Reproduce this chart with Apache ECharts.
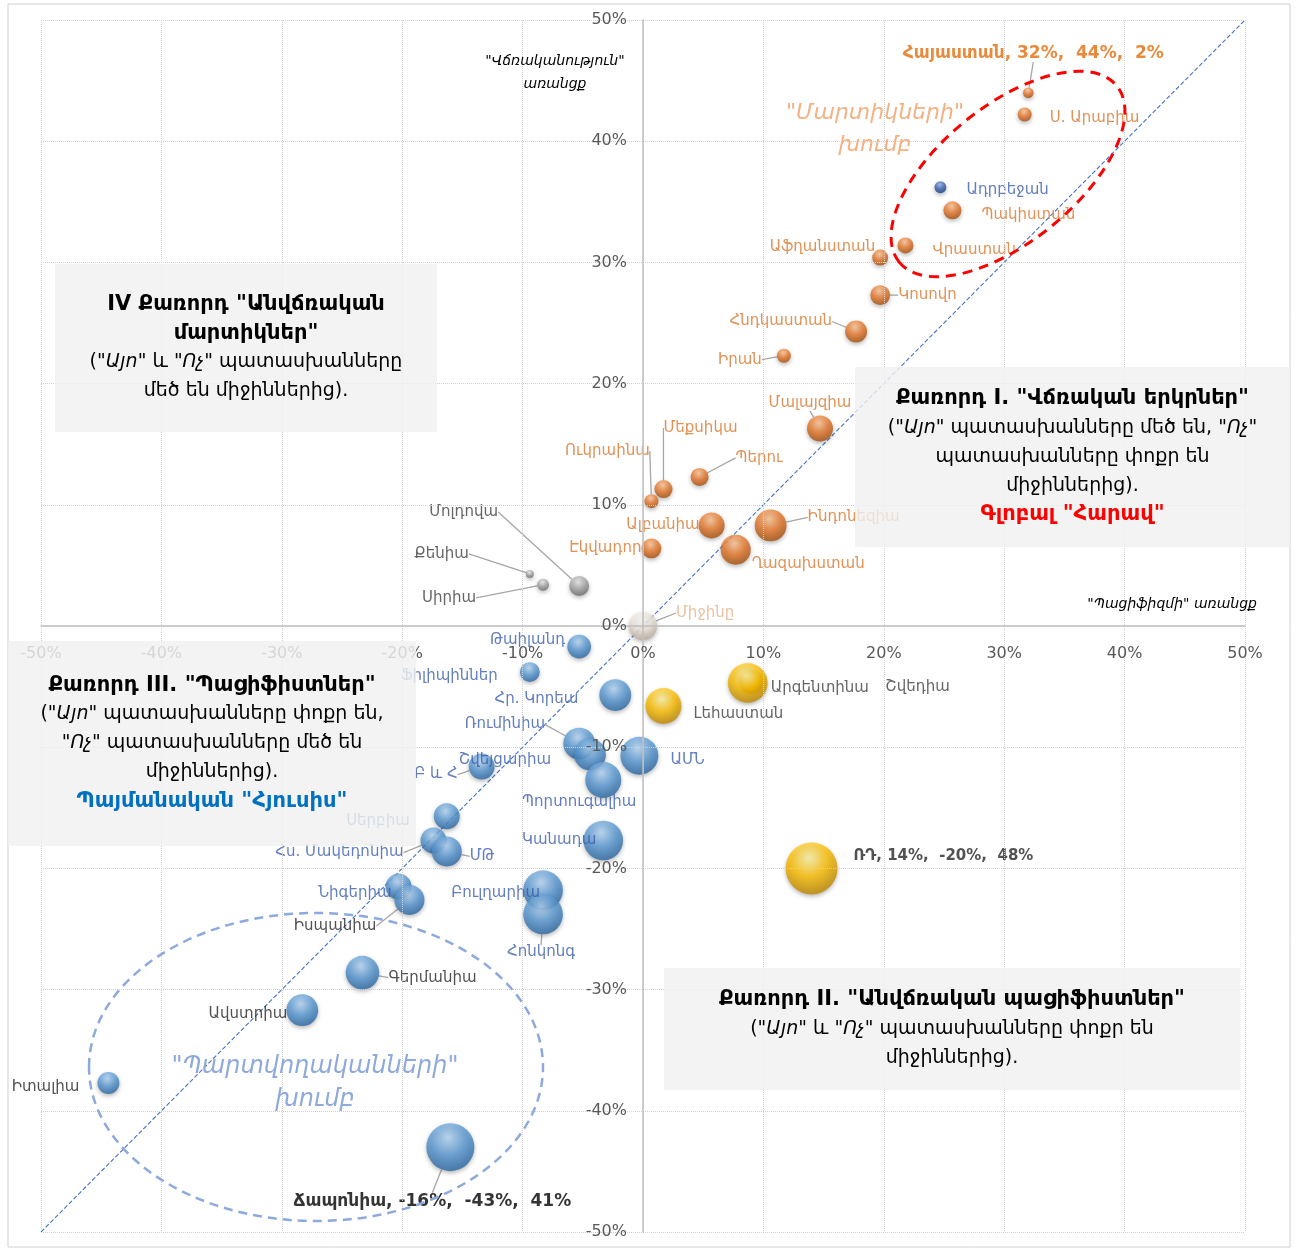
<!DOCTYPE html>
<html><head><meta charset="utf-8">
<script src="https://cdn.jsdelivr.net/npm/echarts@6/dist/echarts.min.js"></script>
<style>html,body{margin:0;padding:0;background:#fff}#c{width:1296px;height:1250px}</style>
</head><body><div id="c"></div>
<script>
// ---- DATA ----
const axisTicks = [-50,-40,-30,-20,-10,0,10,20,30,40,50];
const diagX = [-50, 50];
const diagY = [-50, 50];

const hawkNames = ['Հայաստան','Ս. Արաբիա','Պակիստան','Վրաստան','Աֆղանստան','Կոսովո','Հնդկաստան','Իրան','Մալայզիա','Պերու','Մեքսիկա','Ուկրաինա','Ալբանիա','Ինդոնեզիա','Էկվադոր','Ղազախստան'];
const hawkX    = [32, 31.7, 25.7, 21.8, 19.7, 19.7, 17.7, 11.7, 14.7, 4.7, 1.7, 0.7, 5.7, 10.6, 0.7, 7.7];
const hawkY    = [44, 42.2, 34.3, 31.4, 30.4, 27.3, 24.3, 22.3, 16.3, 12.3, 11.3, 10.3, 8.3, 8.3, 6.4, 6.3];
const hawkSize = [2, 3.5, 5.8, 4.5, 4.5, 7, 8.6, 3.5, 12, 5.8, 5.8, 3.5, 12, 18, 7, 16];

const azerNames = ['Ադրբեջան'];
const azerX = [24.7];
const azerY = [36.2];
const azerSize = [2.5];

const neutralNames = ['Մոլդովա','Քենիա','Սիրիա'];
const neutralX = [-5.3, -9.4, -8.3];
const neutralY = [3.3, 4.3, 3.4];
const neutralSize = [7, 1.1, 2.5];

const avgNames = ['Միջինը'];
const avgX = [0];
const avgY = [0];
const avgSize = [14];

const doveNames = ['Թաիլանդ','Ֆիլիպիններ','Հր. Կորեա','Ռումինիա','Շվեյցարիա','ԱՄՆ','Պորտուգալիա','Բ և Հ','Սերբիա','Հս. Մակեդոնիա','ՄԹ','Կանադա','Նիգերիա','Իսպանիա','Բուլղարիա','Հոնկոնգ','Գերմանիա','Ավստրիա','Իտալիա','Ճապոնիա'];
const doveX    = [-5.3, -9.4, -2.3, -5.3, -4.4, -0.3, -3.3, -13.4, -16.3, -17.4, -16.3, -3.3, -20.3, -19.4, -8.3, -8.3, -23.3, -28.3, -44.4, -16];
const doveY    = [-1.7, -3.8, -5.7, -9.7, -10.6, -10.7, -12.7, -11.6, -15.7, -17.7, -18.6, -17.7, -21.5, -22.6, -21.8, -23.8, -28.6, -31.7, -37.7, -43];
const doveSize = [10, 7, 18, 18, 18, 25.6, 23, 12, 12, 12, 16, 28, 12, 16, 28, 28, 20, 18, 8.6, 41];

const goldNames = ['Շվեդիա','Արգենտինա','Լեհաստան','ՌԴ'];
const goldX    = [9, 8.7, 1.7, 14];
const goldY    = [-4.6, -4.7, -6.6, -20];
const goldSize = [10, 28, 23, 48];

const featured = ['Հայաստան','Ճապոնիա','ՌԴ'];

// ---- LABEL PLACEMENT (pixel offsets from bubble centre) ----
const place = {
 'Հայաստան':[5,-39,'center',1],'Ս. Արաբիա':[25,4,'left',0],'Ադրբեջան':[26,3,'left',0],'Պակիստան':[29,5,'left',0],
 'Վրաստան':[27,5,'left',0],'Աֆղանստան':[-5,-10,'right',0],'Կոսովո':[18,0,'left',1],'Հնդկաստան':[-24,-10,'right',1],
 'Իրան':[-22,4,'right',1],'Մալայզիա':[-10,-25,'center',1],'Պերու':[36,-19,'left',1],'Մեքսիկա':[37,-61,'center',1],
 'Ուկրաինա':[-44,-50,'center',1],'Ալբանիա':[-12,0,'right',0],'Ինդոնեզիա':[37,-8,'left',1],'Էկվադոր':[-10,0,'right',0],
 'Ղազախստան':[16,14,'left',0],'Մոլդովա':[-81,-74,'right',1],'Քենիա':[-61,-20,'right',1],'Սիրիա':[-67,13,'right',1],
 'Միջինը':[33,-13,'left',1],'Թաիլանդ':[-14,-6,'right',0],'Ֆիլիպիններ':[-32,4,'right',0],'Հր. Կորեա':[-37,4,'right',0],
 'Ռումինիա':[-34,-19,'right',1],'Շվեյցարիա':[-39,6,'right',0],'ԱՄՆ':[31,4,'left',0],'Պորտուգալիա':[-24,22,'center',0],
 'Բ և Հ':[-24,8,'right',1],'Սերբիա':[-37,5,'right',0],'Հս. Մակեդոնիա':[-30,12,'right',1],'ՄԹ':[23,5,'left',1],
 'Կանադա':[-7,0,'right',0],'Նիգերիա':[-7,7,'right',0],'Իսպանիա':[-33,26,'right',1],'Բուլղարիա':[-3,3,'right',0],
 'Հոնկոնգ':[-2,38,'center',1],'Գերմանիա':[26,5,'left',1],'Ավստրիա':[-15,4,'right',0],'Իտալիա':[-29,4,'right',0],
 'Ճապոնիա':[-18,54,'center',1],'Շվեդիա':[134,5,'left',0],'Արգենտինա':[23,5,'left',0],'Լեհաստան':[30,8,'left',0],
 'ՌԴ':[42,-12,'left',0]
};
const darkLabel = ['Գերմանիա','Ավստրիա','Իտալիա','Իսպանիա'];
const FONT = '"DejaVu Sans", sans-serif';

function grad(hi, base, dark) {
  return {type:'radial', x:0.45, y:0.3, r:0.8, colorStops:[
    {offset:0, color:hi},{offset:0.45, color:base},{offset:0.85, color:dark},{offset:1, color:dark}]};
}

function makeSeries(names, xs, ys, sizes, color, labelColor) {
  return {
    type:'scatter', z:3,
    data: names.map((n,i)=>{
      const isF = featured.indexOf(n) >= 0;
      const item = {name:n, value:[xs[i], ys[i], sizes[i]], labelLine:{show: !!place[n][3]}, label:{}};
      if (isF) {
        item.label = {fontWeight:'bold', fontSize: n==='ՌԴ'?15:17,
          color: n==='Հայաստան' ? '#E46C0A' : (n==='ՌԴ' ? '#262626' : '#000')};
      } else if (darkLabel.indexOf(n) >= 0) {
        item.label = {color:'#262626'};
      }
      return item;
    }),
    symbolSize: v => 7.5*Math.sqrt(v[2]),
    itemStyle:{color: color, shadowBlur:4, shadowColor:'rgba(0,0,0,0.35)', shadowOffsetY:2},
    label:{show:true, position:'right', fontFamily:FONT, fontSize:15, color:labelColor,
      formatter: p => featured.indexOf(p.name) >= 0 ? `${p.name}, ${p.value[0]}%,  ${p.value[1]}%,  ${p.value[2]}%` : p.name},
    labelLine:{show:false, lineStyle:{color:'#A6A6A6', width:1.3}},
    labelLayout: p => {
      const n = names[p.dataIndex]; const pl = place[n];
      const cx = p.rect.x + p.rect.width/2, cy = p.rect.y + p.rect.height/2;
      return {x: cx + pl[0], y: cy + pl[1], align: pl[2], verticalAlign:'middle'};
    },
    emphasis:{disabled:true}
  };
}

const chart = echarts.init(document.getElementById('c'));

function box(x, y, w, h, text) {
  return [
    {type:'rect', z:100, shape:{x:x, y:y, width:w, height:h}, style:{fill:'rgba(240,240,240,0.82)'}},
    {type:'text', z:101, x: x + w/2, y: y + h/2, style:{text:text, align:'center', verticalAlign:'middle', textAlign:'center', textVerticalAlign:'middle',
      rich:{
        b:{font:'bold 21px ' + FONT, fill:'#000', lineHeight:29, align:'center'},
        n:{font:'19px ' + FONT, fill:'#000', lineHeight:29},
        i:{font:'italic 19px ' + FONT, fill:'#000', lineHeight:29},
        r:{font:'bold 21px ' + FONT, fill:'#FF0000', lineHeight:29},
        bl:{font:'bold 21px ' + FONT, fill:'#0070C0', lineHeight:29}
      }}}
  ];
}

const graphics = [].concat(
  [{type:'rect', z:0, shape:{x:8, y:4, width:1282, height:1243}, style:{fill:'none', stroke:'#D0D0D0', lineWidth:1}}],
  [{type:'ellipse', z:50, x:1008, y:174, rotation: 39*Math.PI/180, shape:{cx:0, cy:0, rx:140, ry:68},
     style:{fill:'none', stroke:'#FF0000', lineWidth:3, lineDash:[10,7]}}],
  [{type:'ellipse', z:50, shape:{cx:316, cy:1067, rx:227, ry:154},
     style:{fill:'none', stroke:'#8EA9DB', lineWidth:2.5, lineDash:[9,6]}}],
  [{type:'text', z:60, x:555, y:73, style:{text:'"Վճռականություն"\nառանցք', font:'italic 14px ' + FONT, fill:'#000', align:'center', verticalAlign:'middle', textAlign:'center', lineHeight:23}}],
  [{type:'text', z:60, x:1257, y:604, style:{text:'"Պացիֆիզմի" առանցք', font:'italic 14px ' + FONT, fill:'#000', align:'right', verticalAlign:'middle', textAlign:'right'}}],
  [{type:'text', z:60, x:875, y:129, style:{text:'"Մարտիկների"\nխումբ', font:'italic 22px ' + FONT, fill:'#F4B183', align:'center', verticalAlign:'middle', textAlign:'center', lineHeight:32}}],
  [{type:'text', z:60, x:315, y:1083, style:{text:'"Պարտվողականների"\nխումբ', font:'italic 24px ' + FONT, fill:'#8EA9DB', align:'center', verticalAlign:'middle', textAlign:'center', lineHeight:33}}],
  box(55, 264, 382, 168, '{b|IV Քառորդ "Անվճռական}\n{b|մարտիկներ"}\n{n|("}{i|Այո}{n|" և "}{i|Ոչ}{n|" պատասխանները}\n{n|մեծ են միջիններից).}'),
  box(855, 367, 435, 180, '{b|Քառորդ I. "Վճռական երկրներ"}\n{n|("}{i|Այո}{n|" պատասխանները մեծ են, "}{i|Ոչ}{n|"}\n{n|պատասխանները փոքր են}\n{n|միջիններից).}\n{r|Գլոբալ "Հարավ"}'),
  box(8, 641, 408, 205, '{b|Քառորդ III. "Պացիֆիստներ"}\n{n|("}{i|Այո}{n|" պատասխանները փոքր են,}\n{n|"}{i|Ոչ}{n|" պատասխանները մեծ են}\n{n|միջիններից).}\n{bl|Պայմանական "Հյուսիս"}'),
  box(664, 968, 576, 122, '{b|Քառորդ II. "Անվճռական պացիֆիստներ"}\n{n|("}{i|Այո}{n|" և "}{i|Ոչ}{n|" պատասխանները փոքր են}\n{n|միջիններից).}')
);

const GRID = {left:41, right:51, top:20, bottom:18};
const gridW = 1296 - GRID.left - GRID.right;
const gridH = 1250 - GRID.top - GRID.bottom;

const axisCommon = {
  type:'value', min:axisTicks[0], max:axisTicks[axisTicks.length-1], interval:10, z:4,
  axisLine:{onZero:false, lineStyle:{color:'#BFBFBF', width:1.5}},
  axisTick:{show:false},
  splitLine:{show:true, lineStyle:{type:'dotted', color:'#D0D0D0', width:1}},
  axisLabel:{formatter:'{value}%', color:'#595959', fontSize:16, fontFamily:FONT}
};

chart.setOption({
  backgroundColor:'#fff',
  animation:false,
  grid:Object.assign({containLabel:false, outerBoundsMode:'none'}, GRID),
  xAxis: Object.assign({}, axisCommon, {position:'bottom', offset: -gridH/2, axisLabel:Object.assign({}, axisCommon.axisLabel, {margin:20})}),
  yAxis: Object.assign({}, axisCommon, {position:'left', offset: -gridW/2, axisLabel:Object.assign({}, axisCommon.axisLabel, {margin:16})}),
  graphic: graphics,
  series: [
    {type:'line', z:2, data: diagX.map((x,i)=>[x, diagY[i]]), symbol:'none', silent:true,
      lineStyle:{type:'dashed', color:'#4472C4', width:1.1}},
    makeSeries(hawkNames, hawkX, hawkY, hawkSize, grad('#FBC79B','#E8782A','#A9510F'), '#D9752B'),
    makeSeries(azerNames, azerX, azerY, azerSize, grad('#8FB0E8','#3A62B0','#1F3F80'), '#3B5EAB'),
    makeSeries(neutralNames, neutralX, neutralY, neutralSize, grad('#E8E8E8','#A6A6A6','#6E6E6E'), '#404040'),
    makeSeries(avgNames, avgX, avgY, avgSize, grad('#FFFFFF','#F0E6DC','#BFAF9F'), '#E0B48C'),
    makeSeries(doveNames, doveX, doveY, doveSize, grad('#B8D8F6','#5B9BD5','#2D6AA6'), '#3B5EAB'),
    makeSeries(goldNames, goldX, goldY, goldSize, grad('#FFF4A8','#FFC000','#C08A00'), '#404040')
  ]
});
</script></body></html>
